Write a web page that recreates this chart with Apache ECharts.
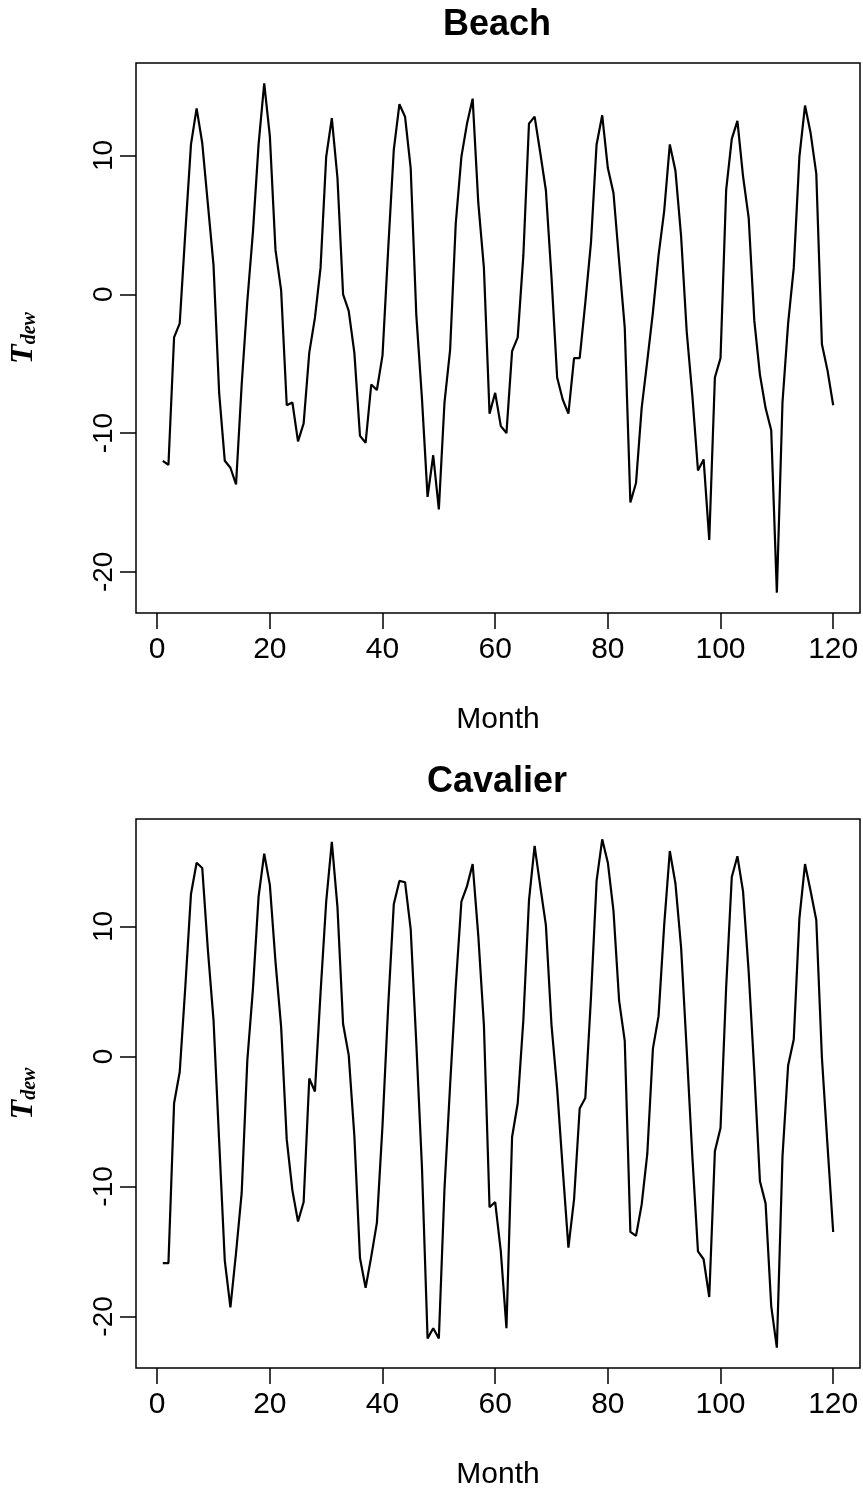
<!DOCTYPE html>
<html>
<head>
<meta charset="utf-8">
<script src="https://cdn.jsdelivr.net/npm/echarts@6/dist/echarts.min.js"></script>
<style>
html,body{margin:0;padding:0;background:#fff;}
#chart{width:863px;height:1492px;}
</style>
</head>
<body>
<div id="chart"></div>
<script>
// ---- data ----
const titles = ["Beach", "Cavalier"];
const xTicks = [0, 20, 40, 60, 80, 100, 120];
const yTicks = [-20, -10, 0, 10];
const months = [];
for (let i = 1; i <= 120; i++) months.push(i);

const beach = [
 -12.0,-12.3,-3.1,-2.1,4.5,10.8,13.4,10.9,6.5,2.1,
 -7.1,-12.0,-12.5,-13.7,-6.5,-0.5,4.5,10.8,15.2,11.4,
 3.2,0.3,-8.0,-7.8,-10.6,-9.3,-4.2,-1.7,1.9,9.9,
 12.7,8.4,0.0,-1.2,-4.2,-10.2,-10.7,-6.5,-6.9,-4.4,
 3.2,10.4,13.7,12.8,9.1,-1.5,-7.5,-14.6,-11.6,-15.5,
 -7.8,-4.0,5.1,9.9,12.3,14.1,6.6,1.9,-8.6,-7.1,
 -9.5,-10.0,-4.1,-3.1,2.8,12.3,12.8,10.2,7.5,1.2,
 -6.0,-7.6,-8.6,-4.6,-4.6,-0.6,3.7,10.8,12.9,9.1,
 7.3,2.4,-2.4,-15.0,-13.6,-8.2,-4.8,-1.3,2.8,6.0,
 10.8,8.9,4.2,-2.7,-7.3,-12.7,-11.9,-17.7,-6.0,-4.6,
 7.5,11.2,12.5,8.5,5.5,-1.9,-5.8,-8.2,-9.8,-21.5,
 -7.8,-2.1,1.9,9.9,13.6,11.6,8.7,-3.6,-5.5,-8.0
];

const cavalier = [
 -15.9,-15.9,-3.6,-1.2,5.4,12.5,14.9,14.5,8.2,2.8,
 -6.5,-15.7,-19.3,-15.1,-10.5,-0.3,5.2,12.3,15.6,13.2,
 7.3,2.3,-6.4,-10.3,-12.7,-11.2,-1.7,-2.7,4.9,11.9,
 16.5,11.5,2.5,0.1,-6.1,-15.5,-17.8,-15.4,-12.8,-5.3,
 3.8,11.7,13.5,13.4,9.8,1.0,-8.5,-21.7,-20.9,-21.7,
 -10.2,-2.2,5.4,11.9,13.1,14.8,9.3,2.4,-11.6,-11.2,
 -15.0,-20.9,-6.2,-3.6,2.8,12.0,16.2,13.1,10.1,2.4,
 -2.5,-8.7,-14.7,-11.0,-4.0,-3.2,4.5,13.5,16.7,14.9,
 11.2,4.3,1.2,-13.5,-13.8,-11.4,-7.5,0.6,3.1,10.1,
 15.8,13.3,8.4,0.5,-7.7,-15.0,-15.6,-18.5,-7.3,-5.5,
 5.3,13.8,15.4,12.7,6.5,-1.2,-9.6,-11.3,-19.2,-22.4,
 -7.7,-0.7,1.3,10.6,14.8,12.7,10.5,-0.1,-6.9,-13.5
];

// ---- chart ----
const chart = echarts.init(document.getElementById('chart'), null, {renderer: 'canvas'});
const sans = 'Liberation Sans, Arial, Helvetica, sans-serif';

function extent(arr) {
  const lo = Math.min(...arr), hi = Math.max(...arr);
  const pad = (hi - lo) * 0.04;
  return [lo - pad, hi + pad];
}
const xExt = extent(months);
const yExt = [extent(beach), extent(cavalier)];

const grids = [
  {left: 133, top: 63, width: 727, height: 550},
  {left: 133, top: 819, width: 727, height: 549}
];

const option = {
  animation: false,
  backgroundColor: '#fff',
  title: titles.map((t, i) => ({
    text: t,
    left: 492,
    top: i === 0 ? 2 : 759,
    textAlign: 'center',
    textStyle: {fontFamily: sans, fontWeight: 'bold', fontSize: 36, color: '#000'}
  })),
  grid: grids.map(g => Object.assign({show: true, borderColor: '#000', borderWidth: 1.5, backgroundColor: 'transparent'}, g)),
  xAxis: [0, 1].map(i => ({
    type: 'value',
    gridIndex: i,
    position: 'bottom',
    min: xExt[0],
    max: xExt[1],
    name: 'Month',
    nameLocation: 'middle',
    nameGap: 92,
    nameTextStyle: {fontFamily: sans, fontSize: 30, color: '#000'},
    axisLine: {show: false, onZero: false},
    splitLine: {show: false},
    axisTick: {show: true, length: 16, lineStyle: {color: '#000', width: 1.5}, customValues: xTicks},
    axisLabel: {show: true, customValues: xTicks, margin: 22, fontFamily: sans, fontSize: 30, color: '#000'}
  })),
  yAxis: [0, 1].map(i => ({
    type: 'value',
    gridIndex: i,
    position: 'left',
    min: yExt[i][0],
    max: yExt[i][1],
    name: '{T|T}{d|dew}',
    nameLocation: 'middle',
    nameGap: 96,
    nameRotate: 90,
    nameTextStyle: {
      rich: {
        T: {fontFamily: 'Liberation Serif, DejaVu Serif, serif', fontStyle: 'italic', fontWeight: 'bold', fontSize: 32, color: '#000', lineHeight: 34, verticalAlign: 'bottom'},
        d: {fontFamily: 'Liberation Serif, DejaVu Serif, serif', fontStyle: 'italic', fontWeight: 'bold', fontSize: 20, color: '#000', lineHeight: 34, verticalAlign: 'bottom'}
      }
    },
    axisLine: {show: false, onZero: false},
    splitLine: {show: false},
    axisTick: {show: true, length: 16, lineStyle: {color: '#000', width: 1.5}, customValues: yTicks},
    axisLabel: {show: true, customValues: yTicks, rotate: 90, margin: 18, fontFamily: sans, fontSize: 28, color: '#000'}
  })),
  series: [beach, cavalier].map((vals, i) => ({
    type: 'line',
    xAxisIndex: i,
    yAxisIndex: i,
    data: months.map((m, k) => [m, vals[k]]),
    symbol: 'none',
    lineStyle: {color: '#000', width: 2.2},
    silent: true
  }))
};
chart.setOption(option);
</script>
</body>
</html>
